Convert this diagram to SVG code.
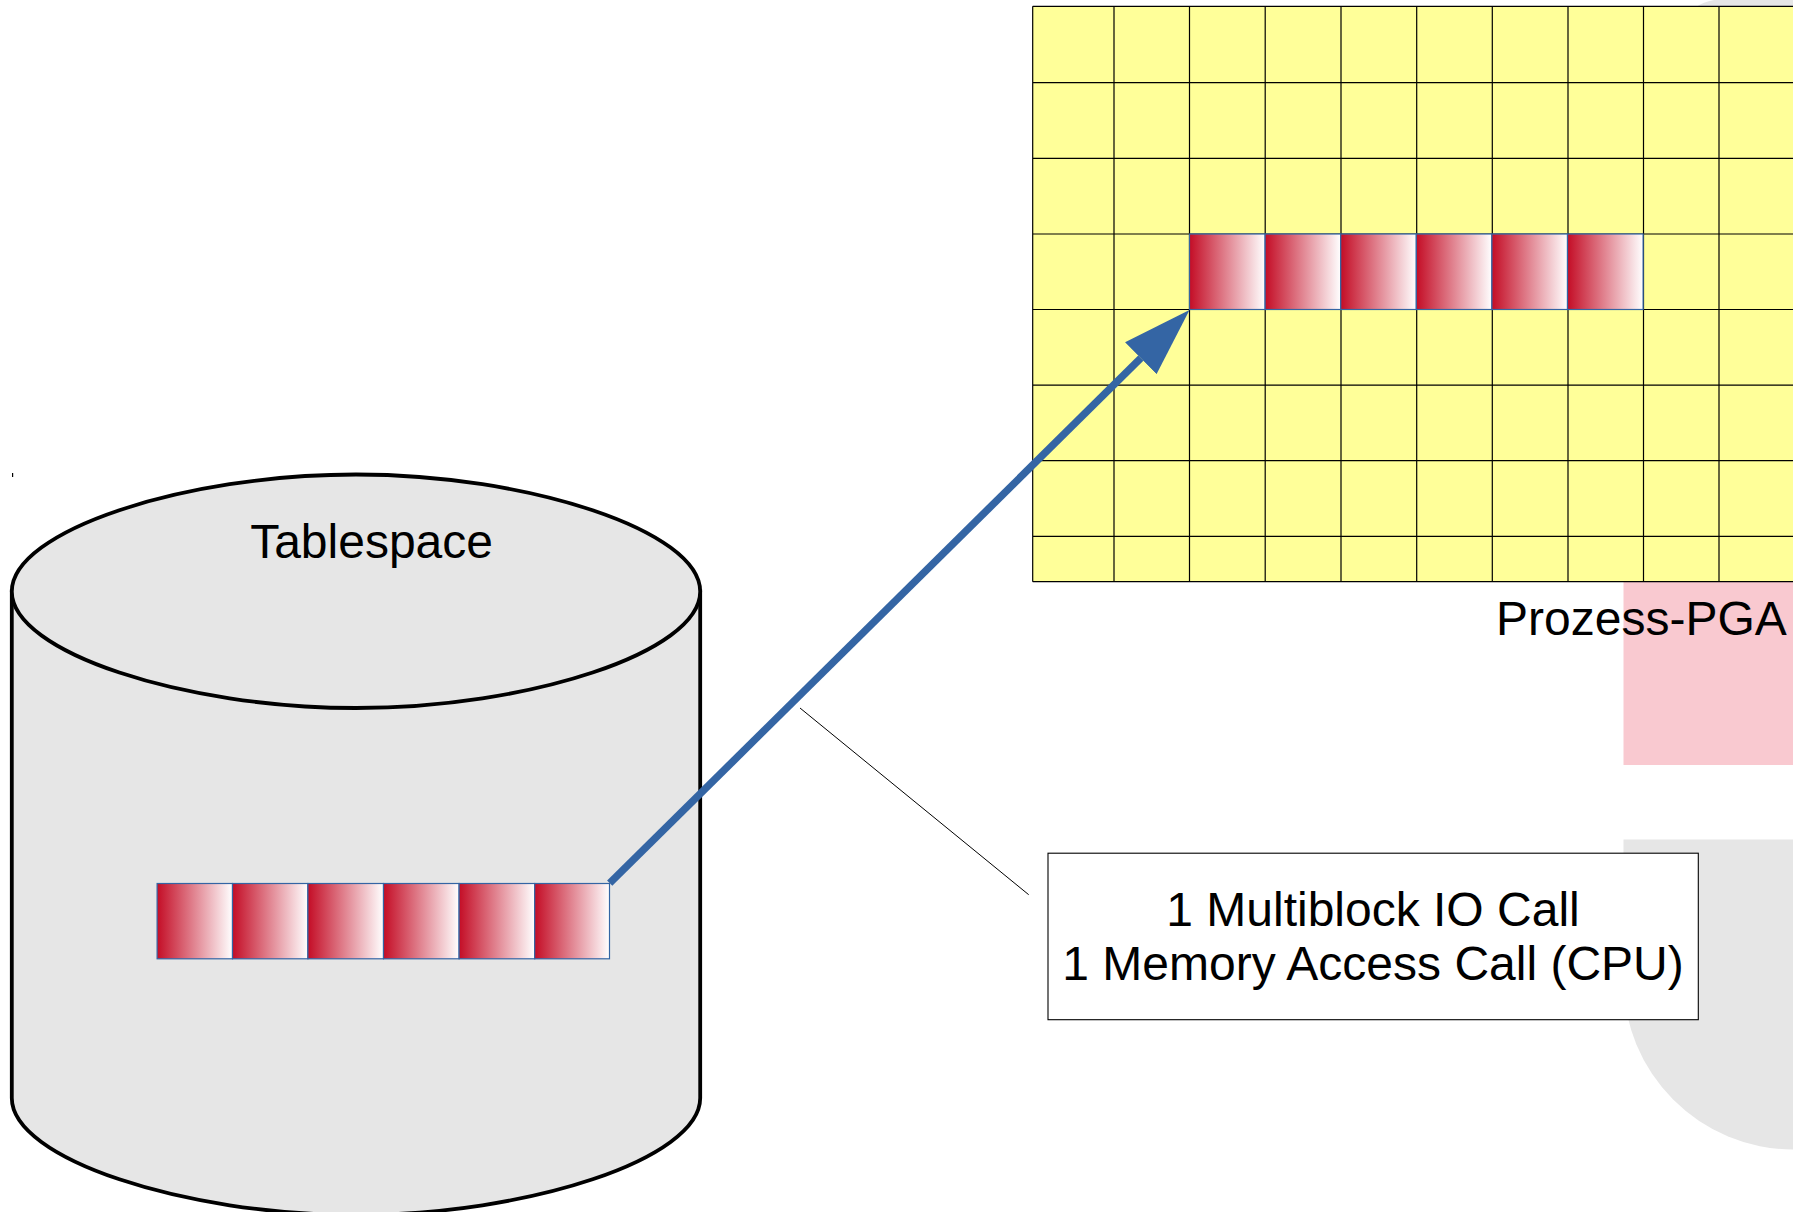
<svg xmlns="http://www.w3.org/2000/svg" width="1793" height="1212" viewBox="0 0 1793 1212">
<style>
text{font-family:"Liberation Sans",Arial,sans-serif;font-size:48px;fill:#000}
.block{fill:url(#blockGrad);stroke:#3465a4;stroke-width:1.2}
.grid{fill:none;stroke:#000;stroke-width:1.2}
.cyl{fill:#e6e6e6;stroke:#000;stroke-width:3.8}
</style>
<defs>
<linearGradient id="blockGrad" x1="0" y1="0" x2="1" y2="0"><stop offset="0" stop-color="#c40d26"/><stop offset="1" stop-color="#ffffff"/></linearGradient>
<marker id="head" markerUnits="userSpaceOnUse" markerWidth="70" markerHeight="46" viewBox="0 0 70 46" refX="0" refY="23" orient="auto"><path d="M0 0.6L68.5 23L0 45.4Z" fill="#3465a4"/></marker>
</defs>
<rect width="1793" height="1212" fill="#fff"/>
<g id="background">
<path d="M1696 7Q1703 2 1714 0H1793V7Z" fill="#e6e6e6"/>
<rect x="1623.5" y="580" width="170" height="185" fill="#f9c9d0"/>
<path d="M1623.5 839.5H1793V1149.5A170 170 0 0 1 1623.5 979.5Z" fill="#e6e6e6"/>
</g>
<g id="pga-grid">
<rect x="1032.7" y="6.3" width="761" height="575.4" fill="#ffff99"/>
<path class="grid" d="M1032.7 6.3H1793M1032.7 82.7H1793M1032.7 158.4H1793M1032.7 234H1793M1032.7 309.5H1793M1032.7 385.2H1793M1032.7 460.7H1793M1032.7 536.3H1793M1032.7 581.7H1793M1032.7 6.3V581.7M1114 6.3V581.7M1189.5 6.3V581.7M1265.2 6.3V581.7M1341 6.3V581.7M1416.7 6.3V581.7M1492.3 6.3V581.7M1568 6.3V581.7M1643.5 6.3V581.7M1719 6.3V581.7"/>
</g>
<g id="pga-blocks">
<rect class="block" x="1189.5" y="234" width="75.6" height="75.5"/>
<rect class="block" x="1265.1" y="234" width="75.6" height="75.5"/>
<rect class="block" x="1340.7" y="234" width="75.6" height="75.5"/>
<rect class="block" x="1416.3" y="234" width="75.6" height="75.5"/>
<rect class="block" x="1491.9" y="234" width="75.6" height="75.5"/>
<rect class="block" x="1567.5" y="234" width="75.6" height="75.5"/>
</g>
<g id="prozess-pga"><text x="1496" y="635">Prozess-PGA</text></g>
<path id="tick" d="M12.6 473V477" stroke="#000" stroke-width="1.2" fill="none"/>
<g id="tablespace">
<path class="cyl" d="M11.8 591.5V1098C11.8 1158.8 183.9 1215 356 1215S700.2 1158.8 700.2 1098V591.5Z"/>
<path class="cyl" d="M11.8 591.5C11.8 530.7 183.9 474.5 356 474.5S700.2 530.7 700.2 591.5S528.1 708 356 708S11.8 652.3 11.8 591.5Z"/>
<text x="371.6" y="558" text-anchor="middle">Tablespace</text>
</g>
<g id="tablespace-blocks">
<rect class="block" x="157.1" y="883.5" width="75.4" height="75.3"/>
<rect class="block" x="232.5" y="883.5" width="75.4" height="75.3"/>
<rect class="block" x="307.9" y="883.5" width="75.6" height="75.3"/>
<rect class="block" x="383.5" y="883.5" width="75.6" height="75.3"/>
<rect class="block" x="459.1" y="883.5" width="75.6" height="75.3"/>
<rect class="block" x="534.7" y="883.5" width="74.8" height="75.3"/>
</g>
<g id="connectors">
<line x1="609.7" y1="883.2" x2="1140.8" y2="358.2" stroke="#3465a4" stroke-width="7.4" marker-end="url(#head)"/>
<line x1="800" y1="708" x2="1028.7" y2="894.7" stroke="#000" stroke-width="1"/>
</g>
<g id="call-note">
<rect x="1048" y="853.2" width="650.3" height="166.5" fill="#fff" stroke="#000" stroke-width="1.1"/>
<text x="1373" y="926" text-anchor="middle">1 Multiblock IO Call</text>
<text x="1373" y="980" text-anchor="middle">1 Memory Access Call (CPU)</text>
</g>
</svg>
